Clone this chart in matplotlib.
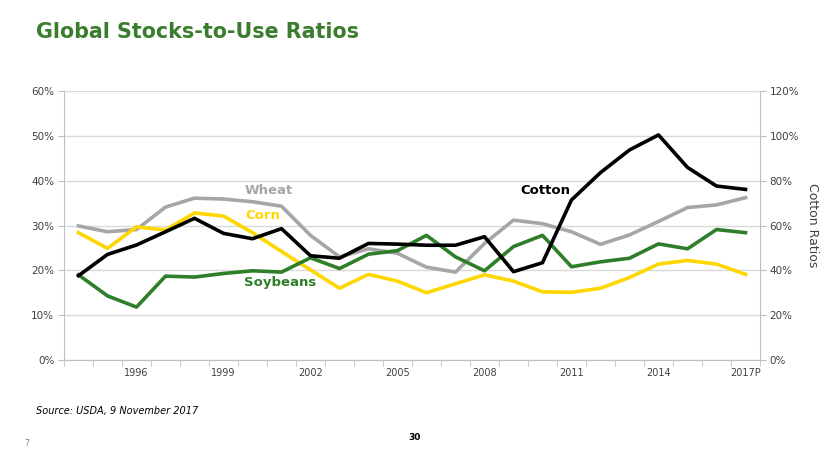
import matplotlib
matplotlib.use("Agg")
import matplotlib.pyplot as plt
import numpy as np

years = list(range(1994, 2018))
wheat = [29.9, 28.6, 29.1, 34.1, 36.1, 35.9, 35.3, 34.3, 27.8, 23.0, 24.8, 23.8, 20.7, 19.6,
         26.0, 31.2, 30.4, 28.6, 25.8, 27.9, 30.9, 34.0, 34.6, 36.2]
corn = [28.4, 24.9, 29.7, 29.0, 32.8, 32.1, 28.4, 24.2, 20.1, 16.0, 19.1, 17.6, 15.0, 17.0,
        19.0, 17.6, 15.2, 15.1, 16.0, 18.4, 21.4, 22.2, 21.4, 19.1]
soybeans = [19.0, 14.3, 11.8, 18.7, 18.5, 19.3, 19.9, 19.6, 22.8, 20.4, 23.6, 24.4, 27.8, 23.0,
            19.9, 25.3, 27.8, 20.8, 21.9, 22.7, 25.9, 24.8, 29.1, 28.4]
cotton = [37.6, 47.1, 51.3, 57.2, 63.2, 56.5, 54.1, 58.6, 46.5, 45.4, 52.0, 51.7, 51.2, 51.2,
          55.0, 39.4, 43.4, 71.4, 83.6, 93.7, 100.4, 85.9, 77.6, 76.1]
label_years = [1996, 1999, 2002, 2005, 2008, 2011, 2014, 2017]
label_texts = ["1996", "1999", "2002", "2005", "2008", "2011", "2014", "2017P"]

c_wheat = "#A6A6A6"
c_corn = "#FFD700"
c_soy = "#2F7F2A"
c_cotton = "#000000"
c_title = "#3A7D2C"
c_axis = "#BFBFBF"
c_text = "#404040"

fig = plt.figure(figsize=(8.3, 4.67), dpi=100)
ax = fig.add_axes([64/830, 1-360/467, (760-64)/830, (360-91)/467])
ax2 = ax.twinx()

lw = 2.6
ax.plot(years, wheat, color=c_wheat, lw=lw, zorder=3)
ax.plot(years, corn, color=c_corn, lw=lw, zorder=3)
ax.plot(years, soybeans, color=c_soy, lw=lw, zorder=3)
ax2.plot(years, cotton, color=c_cotton, lw=lw, zorder=4)

ax.set_xlim(1993.5, 2017.5)
ax.set_ylim(0, 60)
ax2.set_ylim(0, 120)
ax.set_yticks(np.arange(0, 61, 10))
ax.set_yticklabels([f"{v}%" for v in range(0, 61, 10)])
ax2.set_yticks(np.arange(0, 121, 20))
ax2.set_yticklabels([f"{v}%" for v in range(0, 121, 20)])
ax.set_xticks(label_years)
ax.set_xticklabels(label_texts)
ax.set_xticks(np.arange(1993.5, 2017.6, 1), minor=True)
ax.tick_params(axis="x", which="major", length=0, pad=6, labelsize=7, colors=c_text)
ax.tick_params(axis="x", which="minor", length=4, color=c_axis, direction="out")
ax.tick_params(axis="y", length=4, color=c_axis, labelsize=7.5, labelcolor=c_text, pad=3)
ax2.tick_params(axis="y", length=4, color=c_axis, labelsize=7.5, labelcolor=c_text, pad=3)

ax.grid(axis="y", color="#D9D9D9", lw=1)
ax.set_axisbelow(True)
for a in (ax, ax2):
    a.spines["top"].set_visible(False)
    for s in ("left", "right", "bottom"):
        a.spines[s].set_color(c_axis)
ax2.spines["left"].set_visible(False)
ax2.spines["bottom"].set_visible(False)
ax.spines["right"].set_visible(False)

ax2.set_ylabel("Cotton Ratios", rotation=-90, labelpad=14, fontsize=9, color=c_text)

ax.text(2000.55, 37.9, "Wheat", color=c_wheat, fontsize=9.5, fontweight="bold", ha="center", va="center")
ax.text(2000.35, 32.3, "Corn", color=c_corn, fontsize=9.5, fontweight="bold", ha="center", va="center")
ax.text(2000.95, 17.2, "Soybeans", color=c_soy, fontsize=9.5, fontweight="bold", ha="center", va="center")
ax.text(2010.1, 37.9, "Cotton", color=c_cotton, fontsize=9.5, fontweight="bold", ha="center", va="center")

fig.text(36/830, 1-32/467, "Global Stocks-to-Use Ratios", color=c_title, fontsize=14.9,
         fontweight="bold", ha="left", va="center")
fig.text(36/830, 1-411/467, "Source: USDA, 9 November 2017", color="#000000", fontsize=7,
         style="italic", ha="left", va="center")
fig.text(415/830, 1-437/467, "30", color="#000000", fontsize=6.5, fontweight="bold",
         ha="center", va="center")
fig.text(27/830, 1-443/467, "7", color="#808080", fontsize=5.5, ha="center", va="center")

fig.savefig("out.png", dpi=100)
